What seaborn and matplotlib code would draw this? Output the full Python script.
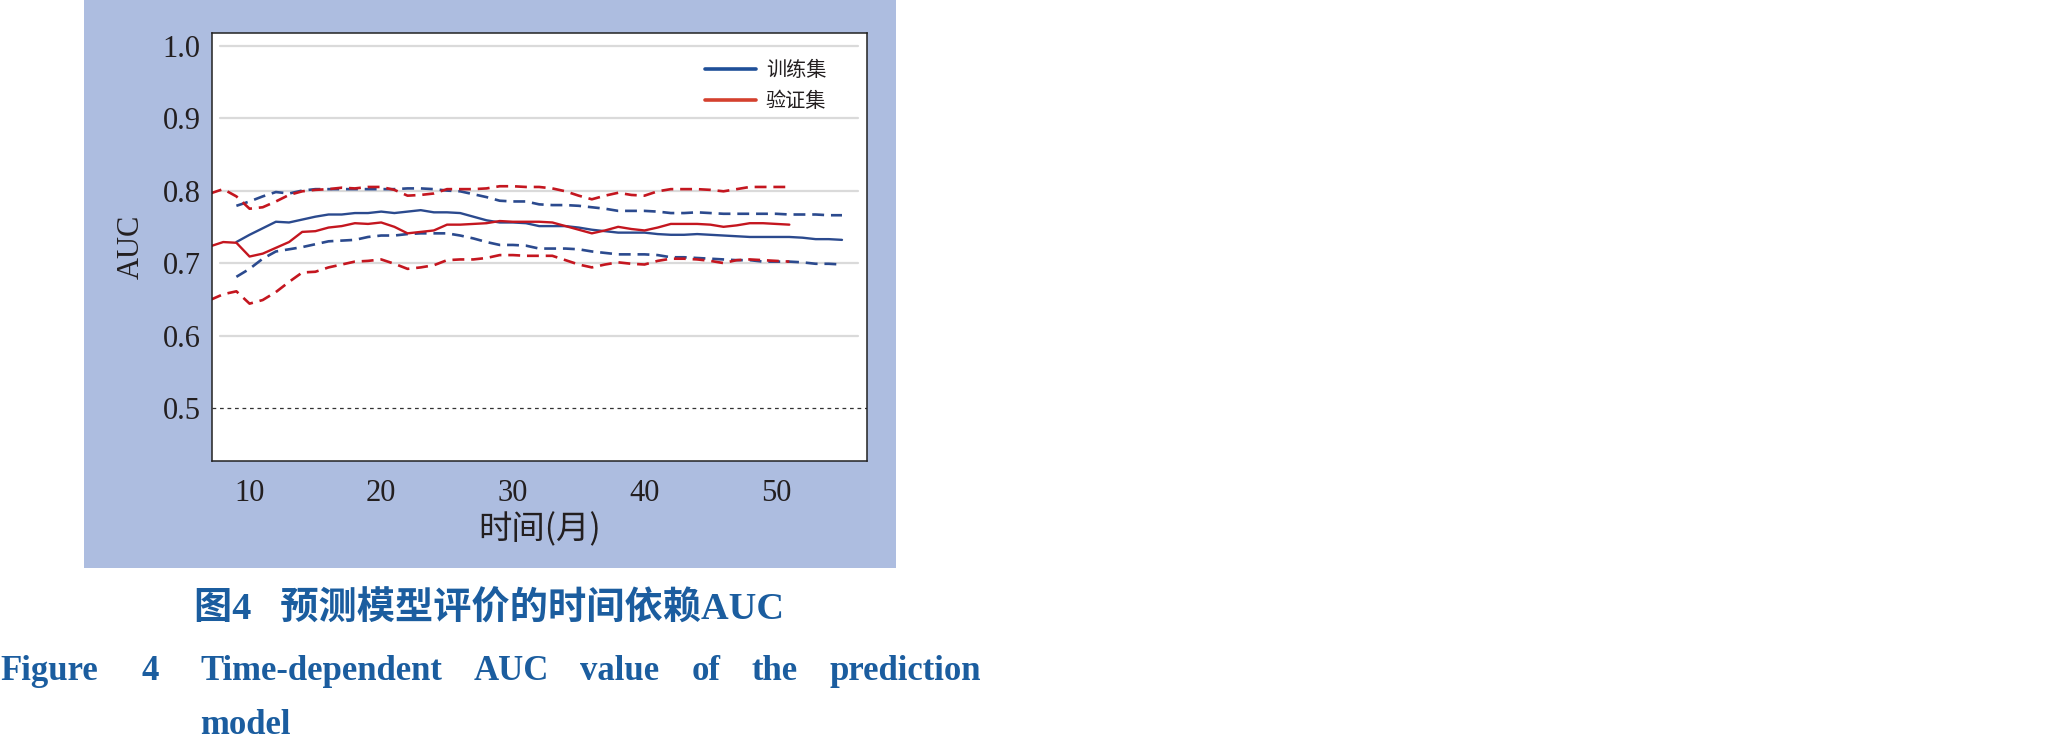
import numpy as np
import pandas as pd
import matplotlib
matplotlib.use('Agg')
import matplotlib.pyplot as plt
from matplotlib.patches import Rectangle
from matplotlib.lines import Line2D
import seaborn as sns

# months
train_month = list(range(9, 56))
val_month = list(range(7, 52))

# training set time-dependent AUC and 95% CI
train_auc = [0.729, 0.739, 0.748, 0.757, 0.756, 0.760, 0.764, 0.767, 0.767, 0.769,
             0.769, 0.771, 0.769, 0.771, 0.773, 0.770, 0.770, 0.769, 0.764, 0.759,
             0.756, 0.756, 0.755, 0.751, 0.751, 0.751, 0.749, 0.746, 0.744, 0.742,
             0.742, 0.742, 0.740, 0.739, 0.739, 0.740, 0.739, 0.738, 0.737, 0.736,
             0.736, 0.736, 0.736, 0.735, 0.733, 0.733, 0.732]
train_hi = [0.779, 0.785, 0.792, 0.798, 0.796, 0.800, 0.802, 0.802, 0.802, 0.802,
            0.802, 0.802, 0.802, 0.803, 0.803, 0.802, 0.800, 0.799, 0.795, 0.791,
            0.786, 0.785, 0.785, 0.781, 0.780, 0.780, 0.779, 0.777, 0.775, 0.772,
            0.772, 0.772, 0.771, 0.769, 0.769, 0.770, 0.769, 0.768, 0.768, 0.768,
            0.768, 0.768, 0.767, 0.767, 0.767, 0.766, 0.766]
train_lo = [0.681, 0.692, 0.706, 0.716, 0.719, 0.722, 0.726, 0.730, 0.731, 0.732,
            0.736, 0.738, 0.738, 0.740, 0.741, 0.741, 0.741, 0.738, 0.734, 0.729,
            0.725, 0.725, 0.724, 0.720, 0.720, 0.720, 0.719, 0.716, 0.714, 0.712,
            0.712, 0.712, 0.711, 0.708, 0.708, 0.707, 0.706, 0.705, 0.704, 0.704,
            0.702, 0.702, 0.702, 0.701, 0.699, 0.699, 0.698]

# validation set
val_auc = [0.723, 0.729, 0.728, 0.709, 0.713, 0.721, 0.729, 0.743, 0.744, 0.749,
           0.751, 0.755, 0.754, 0.756, 0.750, 0.741, 0.743, 0.745, 0.753, 0.753,
           0.754, 0.755, 0.758, 0.757, 0.757, 0.757, 0.756, 0.751, 0.746, 0.741,
           0.745, 0.750, 0.747, 0.745, 0.749, 0.754, 0.754, 0.754, 0.753, 0.750,
           0.752, 0.755, 0.755, 0.754, 0.753]
val_hi = [0.796, 0.802, 0.792, 0.775, 0.777, 0.785, 0.794, 0.799, 0.801, 0.802,
          0.804, 0.803, 0.805, 0.805, 0.801, 0.793, 0.794, 0.796, 0.802, 0.802,
          0.802, 0.803, 0.806, 0.806, 0.805, 0.805, 0.803, 0.799, 0.793, 0.788,
          0.793, 0.797, 0.794, 0.793, 0.799, 0.802, 0.802, 0.802, 0.801, 0.799,
          0.802, 0.805, 0.805, 0.805, 0.805]
val_lo = [0.649, 0.657, 0.661, 0.644, 0.649, 0.660, 0.674, 0.687, 0.688, 0.694,
          0.698, 0.702, 0.703, 0.705, 0.699, 0.692, 0.694, 0.697, 0.704, 0.705,
          0.705, 0.707, 0.711, 0.711, 0.710, 0.710, 0.710, 0.704, 0.698, 0.694,
          0.698, 0.701, 0.699, 0.698, 0.703, 0.706, 0.706, 0.705, 0.703, 0.700,
          0.704, 0.705, 0.704, 0.703, 0.702]

y_ticks = [0.5, 0.6, 0.7, 0.8, 0.9, 1.0]
x_ticks = [10, 20, 30, 40, 50]
legend_labels = ['训练集', '验证集']

sns.set_style('white')
plt.rcParams['font.family'] = ['Liberation Serif', 'Noto Sans CJK SC']

blue = '#2b4a8e'
red = '#c4161f'
panel = '#adbde0'
txt = '#231f20'
cap = '#1b5d9f'

fig = plt.figure(figsize=(20.56, 7.41), dpi=100)
fig.add_artist(Rectangle((0.0409, 0.2335), 0.395, 0.7665, transform=fig.transFigure,
                         facecolor=panel, edgecolor='none', zorder=0))

ax = fig.add_axes([0.103, 0.378, 0.3185, 0.578])
ax.set_facecolor('white')

for v in y_ticks[1:]:
    ax.axhline(v, xmin=0.013, xmax=0.987, color='#dadada', lw=1.6, zorder=1)
ax.axhline(0.5, color='#333333', lw=0.9, ls=(0, (3, 3)), zorder=1)

dash = (0, (4.5, 2.6))
sns.lineplot(x=train_month, y=train_hi, ax=ax, color=blue, lw=1.9, ls=dash)
sns.lineplot(x=train_month, y=train_lo, ax=ax, color=blue, lw=1.9, ls=dash)
sns.lineplot(x=val_month, y=val_hi, ax=ax, color=red, lw=1.9, ls=dash)
sns.lineplot(x=val_month, y=val_lo, ax=ax, color=red, lw=1.9, ls=dash)
sns.lineplot(x=train_month, y=train_auc, ax=ax, color=blue, lw=1.7)
sns.lineplot(x=val_month, y=val_auc, ax=ax, color=red, lw=1.7)

ax.set_xlim(7.13, 56.87)
ax.set_ylim(0.427, 1.018)
ax.set_xticks(x_ticks)
ax.set_yticks(y_ticks)
ax.set_yticklabels([f'{v:.1f}' for v in y_ticks])
ax.tick_params(axis='both', direction='out', length=7, width=0.9, colors=txt,
               labelsize=22, pad=1)
ax.tick_params(axis='x', pad=6)
for s in ax.spines.values():
    s.set_visible(True)
    s.set_color('#222222')
    s.set_linewidth(1.1)

ax.set_xlabel('时间(月)', fontsize=24, color=txt, labelpad=3,
              family=['Noto Sans CJK SC', 'DejaVu Sans'], fontweight='light')
ax.set_ylabel('AUC', fontsize=22, color=txt, labelpad=12)

handles = [Line2D([0], [0], color='#1f4f98', lw=2.6),
           Line2D([0], [0], color='#d4402e', lw=2.6)]
ax.legend(handles, legend_labels, loc='upper right', bbox_to_anchor=(0.966, 0.978),
          frameon=False, handlelength=2.5, handletextpad=0.5, labelspacing=0.5,
          prop={'family': ['Noto Sans CJK SC'], 'size': 14.5, 'weight': 'light'},
          labelcolor=txt)

# captions
fig.text(0.238, 0.177, '图4   预测模型评价的时间依赖AUC', ha='center', va='center',
         fontsize=27.5, fontweight='bold', color=cap)

# english caption, justified between two edges like the journal layout
W = 2056
fig.text(0 / W, 0.094, 'Figure', ha='left', va='center', fontsize=25,
         fontweight='bold', color=cap)
fig.text(142 / W, 0.094, '4', ha='left', va='center', fontsize=25,
         fontweight='bold', color=cap)
words = ['Time-dependent', 'AUC', 'value', 'of', 'the', 'prediction']
line_start, line_end = 200, 981
renderer = fig.canvas.get_renderer()
texts = [fig.text(0, 0.094, w, ha='left', va='center', fontsize=25,
                  fontweight='bold', color=cap) for w in words]
widths = [t.get_window_extent(renderer).width for t in texts]
gap = (line_end - line_start - sum(widths)) / (len(words) - 1)
xpos = line_start
for t, w in zip(texts, widths):
    t.set_x(xpos / W)
    xpos += w + gap
fig.text(200 / W, 0.021, 'model', ha='left', va='center', fontsize=25,
         fontweight='bold', color=cap)

fig.savefig('out.png', dpi=100)
